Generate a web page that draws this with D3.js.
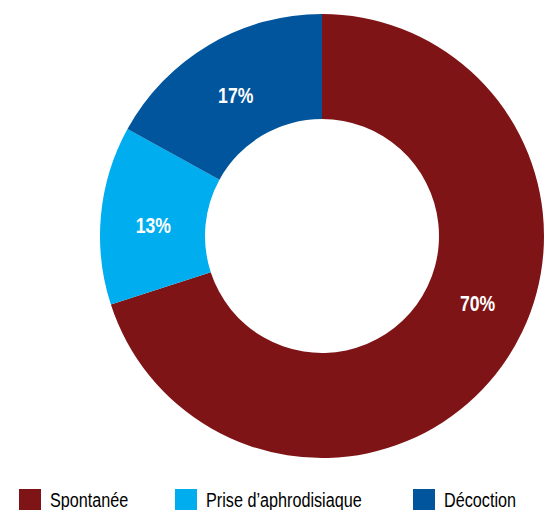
<!DOCTYPE html>
<html>
<head>
<meta charset="utf-8">
<script src="https://cdn.jsdelivr.net/npm/d3@7"></script>
<style>
  html, body { margin: 0; padding: 0; background: #fff; }
  svg { display: block; }
</style>
</head>
<body>
<svg id="chart" width="560" height="510"></svg>
<script>
// Mode d'ingestion — parts en pourcentage
const categories = ["Spontanée", "Prise d’aphrodisiaque", "Décoction"];
const values = [70, 13, 17];
const colors = ["#7E1416", "#00AEEF", "#01559C"];

const svg = d3.select("#chart");
const cx = 322, cy = 236;
const outerR = 222, innerR = 117;
// Condensed look for the text (no narrow face available, so squeeze it)
const narrow = 0.8;

const data = categories.map((c, i) => ({ name: c, value: values[i], color: colors[i] }));

const pie = d3.pie().value(d => d.value).sort(null);
const arcs = pie(data);

const arc = d3.arc().innerRadius(innerR).outerRadius(outerR);

const g = svg.append("g").attr("transform", `translate(${cx},${cy})`);

g.selectAll("path.slice")
  .data(arcs)
  .join("path")
  .attr("class", "slice")
  .attr("d", arc)
  .attr("fill", d => d.data.color);

// Value labels along the ring's mid radius; the large slice's label sits
// a little ahead of its middle, the small ones slightly below theirs.
const labelR = (innerR + outerR) / 2;
const isLarge = d => d.endAngle - d.startAngle > Math.PI;
const labelAngle = d => isLarge(d)
  ? d.startAngle + (d.endAngle - d.startAngle) * 0.45
  : (d.startAngle + d.endAngle) / 2;
g.selectAll("text.val")
  .data(arcs)
  .join("text")
  .attr("class", "val")
  .attr("transform", d => {
    const a = labelAngle(d);
    const dy = isLarge(d) ? 0 : 5;
    return `translate(${labelR * Math.sin(a)},${-labelR * Math.cos(a) + dy}) scale(${narrow},1)`;
  })
  .attr("text-anchor", "middle")
  .attr("dominant-baseline", "central")
  .attr("fill", "#fff")
  .attr("font-family", "'Liberation Sans', Arial, sans-serif")
  .attr("font-weight", "bold")
  .attr("font-size", 22)
  .text(d => d.data.value + "%");

// Legend along the bottom
const legendX = [19, 175, 413];
const items = svg.append("g").selectAll("g.item")
  .data(data)
  .join("g")
  .attr("class", "item")
  .attr("transform", (d, i) => `translate(${legendX[i]},489)`);

items.append("rect")
  .attr("width", 22)
  .attr("height", 22)
  .attr("fill", d => d.color);

items.append("text")
  .attr("transform", `translate(31,18) scale(${narrow + 0.01},1)`)
  .attr("fill", "#000")
  .attr("font-family", "'Liberation Sans', Arial, sans-serif")
  .attr("font-size", 20)
  .text(d => d.name);
</script>
</body>
</html>
